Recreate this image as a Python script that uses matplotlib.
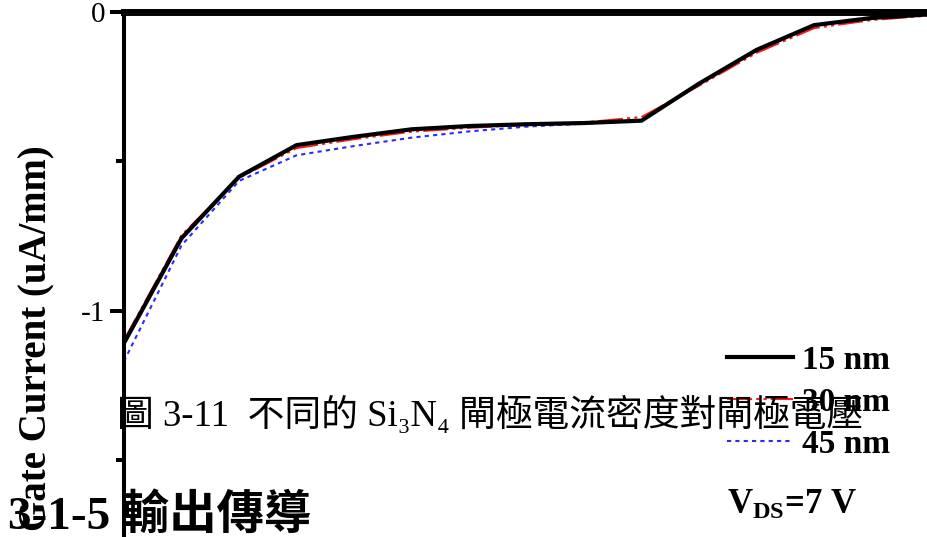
import matplotlib
matplotlib.use("Agg")
import matplotlib.pyplot as plt

# Gate voltage sweep (V) and gate current density (uA/mm) for three Si3N4 thicknesses
vg = [-7.0, -6.5, -6.0, -5.5, -5.0, -4.5, -4.0, -3.5, -3.0, -2.5, -2.0, -1.5, -1.0, -0.5, 0.0]
ig_15nm = [-1.109, -0.758, -0.552, -0.446, -0.418, -0.393, -0.382, -0.376, -0.372, -0.364,
           -0.240, -0.127, -0.044, -0.020, -0.008]
ig_30nm = [-1.100, -0.748, -0.556, -0.456, -0.426, -0.401, -0.388, -0.378, -0.370, -0.352,
           -0.247, -0.137, -0.054, -0.027, -0.012]
ig_45nm = [-1.170, -0.782, -0.566, -0.480, -0.449, -0.421, -0.400, -0.384, -0.374, -0.362,
           -0.243, -0.131, -0.046, -0.021, -0.009]
series_labels = ["15 nm", "30 nm", "45 nm"]
ytick_values = [0, -1]
ytick_labels = ["0", "-1"]
yminor_values = [-0.5, -1.5]
ylabel = "Gate Current (uA/mm)"
bias_note = r"$\mathbf{V_{DS}}$=7 V"
caption = "圖 3-11  不同的 Si₃N₄ 閘極電流密度對閘極電壓"
section = "3-1-5 輸出傳導"

plt.rcParams['font.family'] = ['Liberation Serif', 'Noto Sans CJK TC', 'DejaVu Sans']
plt.rcParams['mathtext.fontset'] = 'custom'
plt.rcParams['mathtext.rm'] = 'Liberation Serif'
plt.rcParams['mathtext.bf'] = 'Liberation Serif:bold'

W, H = 928, 537
fig = plt.figure(figsize=(W / 100, H / 100), dpi=100)


def fx(px):
    return px / W


def fy(py):
    return 1 - py / H


# axes geometry in pixels (the lower part runs past the bottom edge)
y_top, y_bot = 0.0, -1.8
px_per_unit = 298.5
ax_left, ax_right, ax_top = 124, 929, 12
ax_h = (y_top - y_bot) * px_per_unit
ax = fig.add_axes([fx(ax_left), fy(ax_top + ax_h), (ax_right - ax_left) / W, ax_h / H])

ln45, = ax.plot(vg, ig_45nm, color="#2a2aff", lw=1.5, ls=(0, (2, 2)))
ln30, = ax.plot(vg, ig_30nm, color="#ff1a1a", lw=1.5, ls=(0, (12, 2, 1.5, 2, 1.5, 2)))
ln15, = ax.plot(vg, ig_15nm, color="black", lw=3.0, solid_joinstyle="miter")

ax.set_xlim(vg[0], vg[-1])
ax.set_ylim(y_bot, y_top)

for side in ("right", "bottom"):
    ax.spines[side].set_visible(False)
ax.spines["top"].set_linewidth(5)
ax.spines["left"].set_linewidth(2.9)
ax.set_xticks([])
ax.set_yticks(ytick_values, labels=ytick_labels)
ax.set_yticks(yminor_values, minor=True)
ax.tick_params(axis="y", which="major", direction="out", length=10, width=2.9,
               labelsize=21, pad=3.5)
ax.tick_params(axis="y", which="minor", direction="out", length=6, width=2.9)

ax.legend([ln15, ln30, ln45], series_labels, loc="upper left",
          bbox_to_anchor=(fx(727), fy(345)), bbox_transform=fig.transFigure,
          frameon=False, prop=dict(family="Liberation Serif", weight="bold", size=24),
          handlelength=1.98, handletextpad=0.28, labelspacing=0.33,
          borderpad=0, borderaxespad=0)

fig.text(fx(727), fy(505), bias_note, fontsize=25, weight="bold", va="center", ha="left")

fig.text(fx(37), fy(145), ylabel, rotation=90, ha="center", va="top",
         fontsize=28, weight="bold")

fig.text(fx(117), fy(415), caption, ha="left", va="center", fontsize=26.5,
         family=["Liberation Serif", "Noto Sans CJK TC"])

fig.text(fx(8), fy(529), section, ha="left", va="baseline", fontsize=34,
         weight="bold", family=["Liberation Serif", "Noto Sans CJK TC"])

fig.savefig("out.png", dpi=100)
